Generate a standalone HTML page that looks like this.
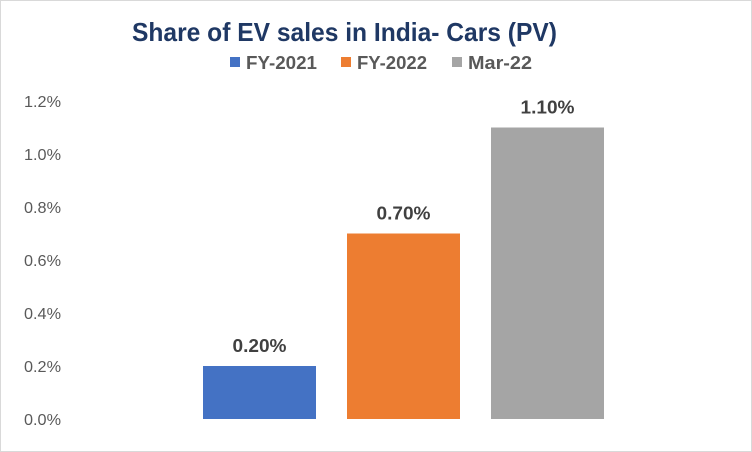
<!DOCTYPE html>
<html><head><meta charset="utf-8"><style>
body{margin:0;background:#fff}
svg{display:block;font-family:"Liberation Sans",sans-serif}
</style></head><body>
<svg id="chart" width="752" height="452">
<rect x="0.5" y="0.5" width="751" height="451" fill="#fff" stroke="#d9d9d9"/>
<text x="132" y="41" font-size="26" font-weight="bold" fill="#1f3864" textLength="425" lengthAdjust="spacingAndGlyphs">Share of EV sales in India- Cars (PV)</text>
<g id="legend"></g>
<g id="yaxis"></g>
<g id="bars"></g>
</svg>
<script>
const categories=["FY-2021","FY-2022","Mar-22"];
const values=[0.2,0.7,1.1];
const valueLabels=["0.20%","0.70%","1.10%"];
const colors=["#4472c4","#ed7d31","#a5a5a5"];
const ticks=[0,0.2,0.4,0.6,0.8,1.0,1.2];
const tickLabels=["0.0%","0.2%","0.4%","0.6%","0.8%","1.0%","1.2%"];
const NS="http://www.w3.org/2000/svg";
const y0=419,y1=101,yMax=1.2;
function y(v){return y0-(v/yMax)*(y0-y1);}
function x(i){return 203+i*144;}
const bw=113;
function mk(t,a,p){const e=document.createElementNS(NS,t);for(const k in a)e.setAttribute(k,a[k]);p.appendChild(e);return e;}
const ya=document.getElementById('yaxis');
ticks.forEach((t,i)=>{
 const e=mk('text',{x:24,y:y(t)+6,'font-size':16,fill:'#595959',textLength:37,lengthAdjust:'spacingAndGlyphs'},ya);
 e.textContent=tickLabels[i];
 
 
});
const bg=document.getElementById('bars');
values.forEach((v,i)=>{
 const r=mk('rect',{x:x(i),y:y(v),width:bw,height:y0-y(v),fill:colors[i]},bg);
 
 
 const l=mk('text',{x:x(i)+bw/2-27,y:y(v)-14,'font-size':18,'font-weight':'bold',fill:'#404040',textLength:54,lengthAdjust:'spacingAndGlyphs'},bg);
 l.textContent=valueLabels[i];
 
 
});
const lg=document.getElementById('legend');
const lx=[230,341,452];
const lw=[71,70,64];
categories.forEach((c,i)=>{
 const s=mk('rect',{x:lx[i],y:57,width:10,height:10,fill:colors[i]},lg);
 
 
 const t=mk('text',{x:lx[i]+16,y:69,'font-size':18,'font-weight':'bold',fill:'#595959',textLength:lw[i],lengthAdjust:'spacingAndGlyphs'},lg);
 t.textContent=c;
 
 
});
</script>
</body></html>
